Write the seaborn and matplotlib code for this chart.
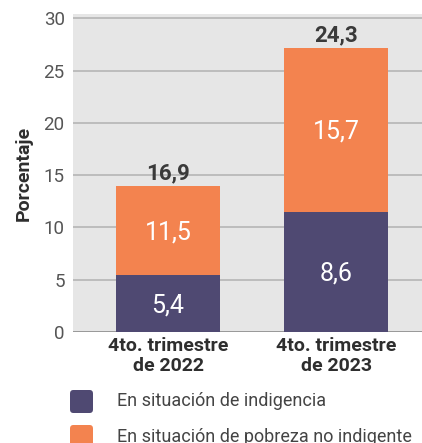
import matplotlib
matplotlib.use("Agg")
import matplotlib.pyplot as plt
import seaborn as sns
import pandas as pd
from matplotlib.patches import FancyBboxPatch

# datos (alturas tal como se dibujan en el grafico original)
periodos = ["4to. trimestre\nde 2022", "4to. trimestre\nde 2023"]
indigencia = [5.4, 11.5]
pobreza_no_indigente = [8.6, 15.7]
# rotulos tal como aparecen
rotulos_indigencia = ["5,4", "8,6"]
rotulos_pobreza = ["11,5", "15,7"]
rotulos_total = ["16,9", "24,3"]
series = ["En situación de indigencia", "En situación de pobreza no indigente"]

morado = "#4f4972"
naranja = "#f3834f"

sns.set_theme(style="darkgrid")
plt.rcParams["font.family"] = ["Roboto", "DejaVu Sans"]

df = pd.DataFrame({"periodo": periodos,
                   "indigencia": indigencia,
                   "total": [a + b for a, b in zip(indigencia, pobreza_no_indigente)]})

fig = plt.figure(figsize=(4.22, 4.43), dpi=100)
ax = fig.add_axes([0.173, 0.251, 0.827, 0.717])
ax.set_facecolor("#e6e6e6")

sns.barplot(data=df, x="periodo", y="total", color=naranja, saturation=1,
            width=0.62, ax=ax, zorder=3, linewidth=0)
sns.barplot(data=df, x="periodo", y="indigencia", color=morado, saturation=1,
            width=0.62, ax=ax, zorder=3, linewidth=0)

for i in range(len(periodos)):
    ax.text(i, indigencia[i] / 2 - 0.2, rotulos_indigencia[i], ha="center", va="center",
            color="white", fontsize=18, zorder=4)
    ax.text(i, indigencia[i] + pobreza_no_indigente[i] / 2 - 0.2, rotulos_pobreza[i],
            ha="center", va="center", color="white", fontsize=18, zorder=4)
    ax.text(i, df["total"][i] + 1.2, rotulos_total[i], ha="center", va="center",
            color="#3a3a3a", fontsize=16, fontweight="bold", zorder=4)

ax.set_ylim(0, 30.4)
ax.set_xlim(-0.565, 1.51)
ax.set_yticks(range(0, 31, 5))
ax.grid(axis="y", color="#b5b5b5", linewidth=1.2, zorder=1)
ax.grid(axis="x", visible=False)
for s in ax.spines.values():
    s.set_visible(False)
ax.axhline(0, color="#9a9a9a", linewidth=1.4, zorder=2)
ax.tick_params(axis="y", length=0, pad=6, labelsize=13.5, labelcolor="#555555")
ax.tick_params(axis="x", length=0, pad=4, labelsize=14, labelcolor="#2e2e2e")
for t in ax.get_xticklabels():
    t.set_fontweight("bold")
    t.set_linespacing(1.12)
ax.set_xlabel("")
ax.set_ylabel("Porcentaje", fontsize=14, fontweight="bold", color="#2e2e2e", labelpad=8)

# leyenda
colores = [morado, naranja]
for k, (nombre, c) in enumerate(zip(series, colores)):
    y0 = 1 - (390 + 35 * k + 23) / 443
    fig.add_artist(FancyBboxPatch((70 / 422, y0), 23 / 422, 23 / 443,
                                  boxstyle="round,pad=0,rounding_size=0.008",
                                  transform=fig.transFigure, facecolor=c,
                                  edgecolor="none"))
    fig.text(117 / 422, y0 + 11.5 / 443, nombre, ha="left", va="center",
             fontsize=13, color="#444444")

fig.savefig("out.png", dpi=100)
